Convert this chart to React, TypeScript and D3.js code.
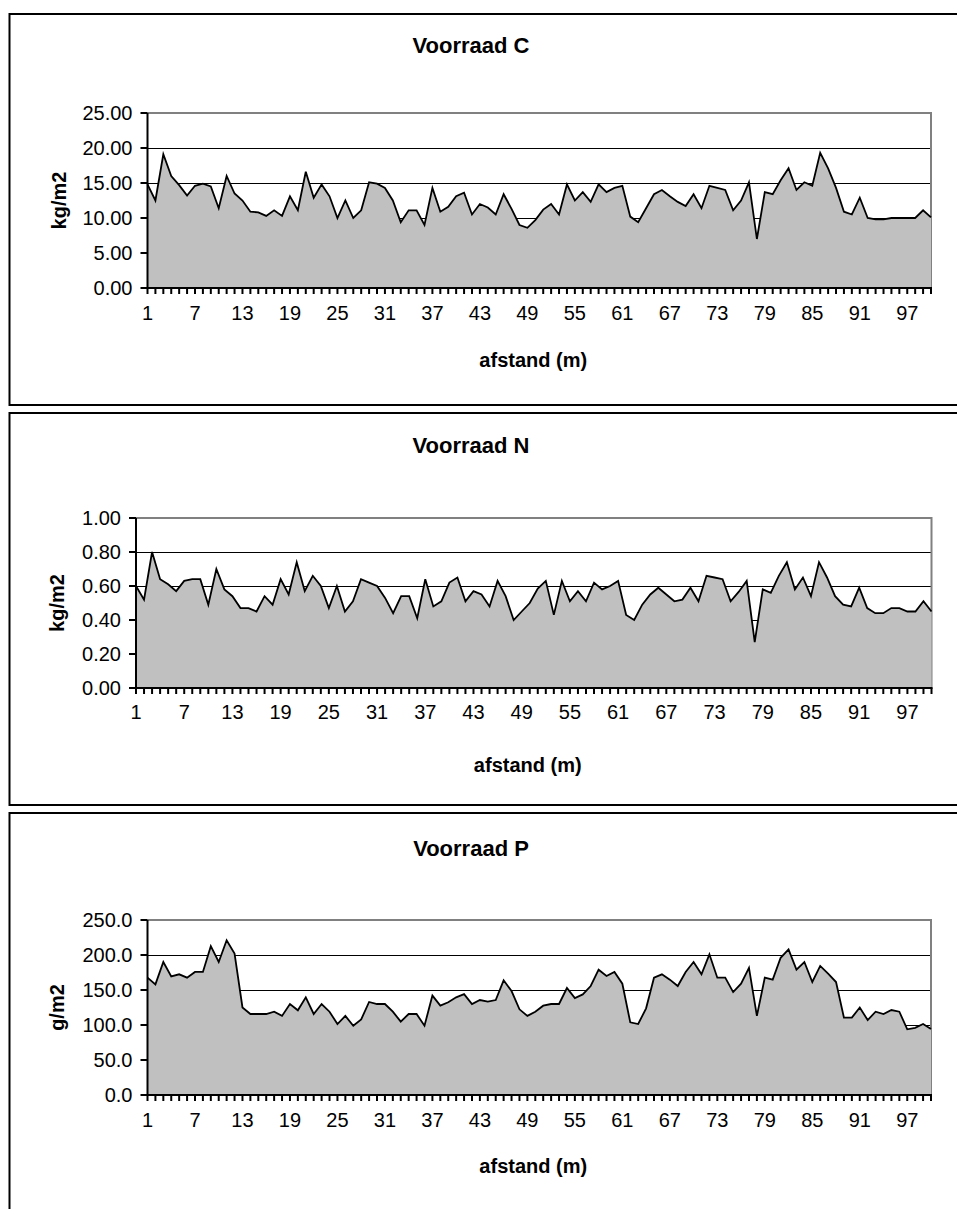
import React from "react";
import * as d3 from "d3";

const distances: number[] = Array.from({ length: 100 }, (_, i) => i + 1);
const xTickLabels: number[] = [1, 7, 13, 19, 25, 31, 37, 43, 49, 55, 61, 67, 73, 79, 85, 91, 97];

const valuesC: number[] = [
  14.8, 12.5, 19.1, 16.0, 14.7, 13.2, 14.6, 14.9, 14.5, 11.4,
  16.0, 13.5, 12.5, 10.9, 10.8, 10.3, 11.1, 10.3, 13.1, 11.1,
  16.6, 12.9, 14.8, 13.1, 10.0, 12.5, 10.0, 11.1, 15.1, 14.9,
  14.3, 12.5, 9.4, 11.1, 11.1, 9.0, 14.3, 10.9, 11.6, 13.1,
  13.6, 10.5, 12.0, 11.5, 10.5, 13.4, 11.3, 9.0, 8.6, 9.7,
  11.2, 12.0, 10.5, 14.8, 12.5, 13.7, 12.3, 14.8, 13.7, 14.3,
  14.6, 10.2, 9.4, 11.4, 13.4, 14.0, 13.1, 12.3, 11.7, 13.4,
  11.4, 14.6, 14.3, 14.0, 11.1, 12.5, 15.1, 7.0, 13.7, 13.4,
  15.4, 17.1, 14.0, 15.1, 14.6, 19.3, 17.1, 14.3, 10.9, 10.5,
  12.9, 10.0, 9.8, 9.8, 10.0, 10.0, 10.0, 10.0, 11.1, 10.1,
];

const valuesN: number[] = [
  0.60, 0.52, 0.80, 0.64, 0.61, 0.57, 0.63, 0.64, 0.64, 0.49,
  0.70, 0.58, 0.54, 0.47, 0.47, 0.45, 0.54, 0.49, 0.64, 0.55,
  0.74, 0.57, 0.66, 0.60, 0.47, 0.60, 0.45, 0.51, 0.64, 0.62,
  0.60, 0.53, 0.44, 0.54, 0.54, 0.41, 0.64, 0.48, 0.51, 0.62,
  0.65, 0.51, 0.57, 0.55, 0.48, 0.63, 0.54, 0.40, 0.45, 0.50,
  0.585, 0.63, 0.43, 0.63, 0.51, 0.57, 0.51, 0.62, 0.58, 0.60,
  0.63, 0.43, 0.40, 0.49, 0.55, 0.59, 0.55, 0.51, 0.52, 0.59,
  0.51, 0.66, 0.65, 0.64, 0.51, 0.565, 0.63, 0.27, 0.58, 0.56,
  0.66, 0.74, 0.58, 0.65, 0.54, 0.74, 0.65, 0.54, 0.49, 0.48,
  0.59, 0.47, 0.44, 0.44, 0.47, 0.47, 0.45, 0.45, 0.51, 0.45,
];

const valuesP: number[] = [
  167.6, 158, 190, 169.5, 172.4, 167.6, 175.8, 175.8, 212.6, 190,
  221, 202, 125, 115.7, 115.7, 115.7, 119, 113, 130, 121,
  139.5, 115.7, 130, 119, 101.4, 113, 99, 108, 132.9, 130,
  130, 119, 104.8, 115.7, 115.7, 99, 142, 127.6, 132.4, 139.5,
  144, 130, 135.7, 133.3, 135.7, 163.8, 148.5, 122.4, 113, 119,
  127.6, 130, 130, 152.8, 138.4, 143.7, 155.7, 179, 170, 175.8,
  159, 103.8, 101.4, 123.8, 167.6, 172.4, 164.8, 155.7, 175.8, 190,
  172.4, 201, 167.6, 167.6, 147, 159, 181.5, 113, 167.6, 164.8,
  196, 208, 179, 190, 161.4, 184.4, 173.4, 161.4, 110.5, 110.5,
  125, 107, 119, 115.7, 121.4, 119, 93.8, 96, 101.4, 94.3,
];

const yTicksC: number[] = [0, 5, 10, 15, 20, 25];
const yTicksN: number[] = [0, 0.2, 0.4, 0.6, 0.8, 1.0];
const yTicksP: number[] = [0, 50, 100, 150, 200, 250];

const FONT = "'Liberation Sans', Arial, Helvetica, sans-serif";

type ChartProps = {
  title: string;
  yTitle: string;
  values: number[];
  yTicks: number[];
  decimals: number;
  boxTop: number;
  boxBottom: number | null;
  left: number;
  right: number;
  top: number;
  bottom: number;
  titleY: number;
  xLabelY: number;
  xTitleY: number;
  yTitleX: number;
};

function Chart(p: ChartProps) {
  const x = d3.scaleLinear().domain([1, 100]).range([p.left, p.right]);
  const y = d3
    .scaleLinear()
    .domain([0, p.yTicks[p.yTicks.length - 1]])
    .range([p.bottom, p.top]);
  const pts: [number, number][] = distances.map((d, i) => [d, p.values[i]]);
  const area = d3
    .area<[number, number]>()
    .x((d) => x(d[0]))
    .y0(y(0))
    .y1((d) => y(d[1]));
  const line = d3
    .line<[number, number]>()
    .x((d) => x(d[0]))
    .y((d) => y(d[1]));
  const fmt = d3.format(`.${p.decimals}f`);
  const boxW = 960;
  return (
    <g>
      <path
        d={
          p.boxBottom === null
            ? `M960,${p.boxTop}H9.5V1215`
            : `M${boxW},${p.boxTop}H9.5V${p.boxBottom}H${boxW}`
        }
        fill="none"
        stroke="#000"
        strokeWidth={2}
      />
      <text
        x={471}
        y={p.titleY}
        textAnchor="middle"
        fontFamily={FONT}
        fontWeight="bold"
        fontSize={22}
      >
        {p.title}
      </text>
      {p.yTicks.slice(1, -1).map((t) => (
        <line
          key={t}
          x1={p.left}
          x2={p.right}
          y1={Math.round(y(t)) + 0.5}
          y2={Math.round(y(t)) + 0.5}
          stroke="#000"
          strokeWidth={1}
        />
      ))}
      <path
        d={`M${p.left},${p.top}H${p.right}V${p.bottom}`}
        fill="none"
        stroke="#808080"
        strokeWidth={2}
      />
      <path d={area(pts) || ""} fill="#c0c0c0" stroke="none" />
      <path
        d={line(pts) || ""}
        fill="none"
        stroke="#000"
        strokeWidth={1.8}
        strokeLinejoin="miter"
      />
      <line x1={p.left} x2={p.left} y1={p.top} y2={p.bottom + 1} stroke="#000" strokeWidth={2} />
      <line x1={p.left - 1} x2={p.right + 1} y1={p.bottom} y2={p.bottom} stroke="#000" strokeWidth={2} />
      {p.yTicks.map((t) => (
        <g key={t}>
          <line x1={p.left - 7} x2={p.left} y1={y(t)} y2={y(t)} stroke="#000" strokeWidth={2} />
          <text
            x={p.left - 15}
            y={y(t) + 7}
            textAnchor="end"
            fontFamily={FONT}
            fontSize={20}
          >
            {fmt(t)}
          </text>
        </g>
      ))}
      {distances.map((d) => (
        <line
          key={d}
          x1={x(d)}
          x2={x(d)}
          y1={p.bottom}
          y2={p.bottom + 6}
          stroke="#000"
          strokeWidth={2}
        />
      ))}
      {xTickLabels.map((d) => (
        <text
          key={d}
          x={x(d)}
          y={p.xLabelY}
          textAnchor="middle"
          fontFamily={FONT}
          fontSize={20}
        >
          {d}
        </text>
      ))}
      <text
        x={(p.left + p.right) / 2 - 6}
        y={p.xTitleY}
        textAnchor="middle"
        fontFamily={FONT}
        fontWeight="bold"
        fontSize={20}
      >
        afstand (m)
      </text>
      <text
        transform={`translate(${p.yTitleX},${(p.top + p.bottom) / 2}) rotate(-90)`}
        textAnchor="middle"
        fontFamily={FONT}
        fontWeight="bold"
        fontSize={20}
      >
        {p.yTitle}
      </text>
    </g>
  );
}

export default function App() {
  return (
    <svg
      width={957}
      height={1209}
      style={{ position: "absolute", left: 0, top: 0, background: "#fff" }}
    >
      <rect width={957} height={1209} fill="#fff" />
      <Chart
        title="Voorraad C"
        yTitle="kg/m2"
        values={valuesC}
        yTicks={yTicksC}
        decimals={2}
        boxTop={14}
        boxBottom={405}
        left={147.5}
        right={931}
        top={113}
        bottom={288}
        titleY={53}
        xLabelY={320}
        xTitleY={367}
        yTitleX={66}
      />
      <Chart
        title="Voorraad N"
        yTitle="kg/m2"
        values={valuesN}
        yTicks={yTicksN}
        decimals={2}
        boxTop={413}
        boxBottom={805}
        left={136}
        right={931.5}
        top={518}
        bottom={688}
        titleY={453}
        xLabelY={719}
        xTitleY={772}
        yTitleX={64}
      />
      <Chart
        title="Voorraad P"
        yTitle="g/m2"
        values={valuesP}
        yTicks={yTicksP}
        decimals={1}
        boxTop={813}
        boxBottom={null}
        left={147.5}
        right={931}
        top={920}
        bottom={1095}
        titleY={856}
        xLabelY={1127}
        xTitleY={1173}
        yTitleX={64}
      />
    </svg>
  );
}
